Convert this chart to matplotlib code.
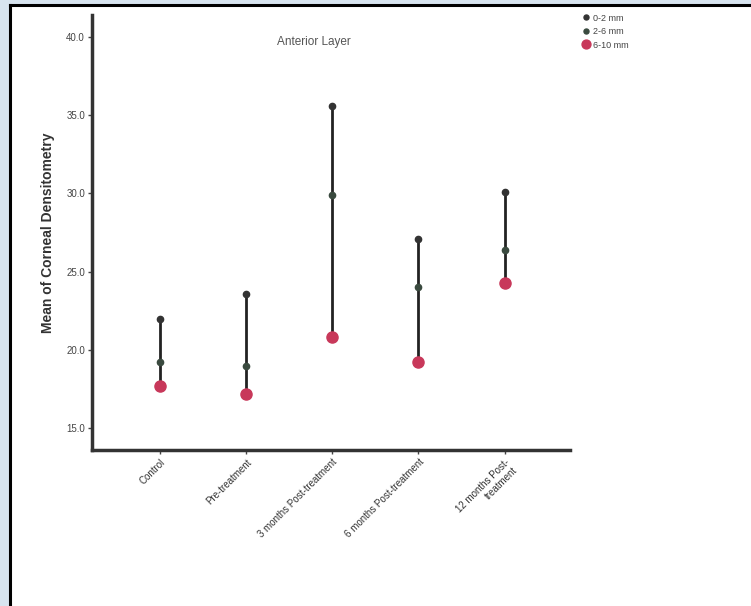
import numpy as np
import matplotlib.pyplot as plt
from matplotlib.patches import Rectangle
from matplotlib.lines import Line2D

plt.rcParams["font.family"] = ["Liberation Sans", "DejaVu Sans"]

# mean densitometry per visit, anterior layer, by annulus
visits = ["Control", "Pre-treatment", "3 months Post-treatment",
          "6 months Post-treatment", "12 months Post-\ntreatment"]
zone_0_2 = [19.2, 19.0, 29.9, 24.0, 26.4]
zone_2_6 = [22.0, 23.6, 35.6, 27.1, 30.1]
zone_6_10 = [17.7, 17.2, 20.8, 19.2, 24.3]
zone_labels = ["0-2 mm", "2-6 mm", "6-10 mm"]
yticks = [15.0, 20.0, 25.0, 30.0, 35.0, 40.0]

fig = plt.figure(figsize=(7.51, 6.06), dpi=100)
fig.patch.set_facecolor("#d7e4ef")
# white panel with dark frame on left/top
fig.patches.append(Rectangle((9 / 751, 0), 1, 1 - 5 / 606, transform=fig.transFigure,
                             facecolor="white", edgecolor="none", zorder=-5))
fig.lines.append(Line2D([9.5 / 751, 9.5 / 751], [0, 1 - 5 / 606], transform=fig.transFigure,
                        color="black", lw=2.2, zorder=-4))
fig.lines.append(Line2D([9.5 / 751, 1], [1 - 5 / 606, 1 - 5 / 606], transform=fig.transFigure,
                        color="black", lw=2.2, zorder=-4))

ax = fig.add_axes([92 / 751, 1 - 450 / 606, 478 / 751, 435 / 606])
ax.set_zorder(2)
ax.set_facecolor("none")
x = np.arange(len(visits))

lo = np.minimum(np.minimum(zone_0_2, zone_2_6), zone_6_10)
hi = np.maximum(np.maximum(zone_0_2, zone_2_6), zone_6_10)
ax.vlines(x, lo, hi, color="#222222", lw=2, zorder=1)
ax.plot(x, zone_2_6, "o", color="#333333", ms=4.5, zorder=2, label=zone_labels[0])
ax.plot(x, zone_0_2, "o", color="#3a4a3f", ms=4.5, zorder=2, label=zone_labels[1])
ax.plot(x, zone_6_10, "o", color="#c8385a", ms=8, zorder=3, label=zone_labels[2])

ax.set_xlim(-0.79, 4.76)
ax.set_ylim(13.6, 41.4)
ax.set_xticks(x)
ax.set_xticklabels(visits, rotation=45, ha="right", rotation_mode="anchor",
                   fontsize=7, color="#333333")
ax.set_yticks(yticks)
ax.set_yticklabels(["%.1f" % v for v in yticks], fontsize=7, color="#444444")
ax.tick_params(axis="both", direction="out", length=3, width=1, color="#444444", pad=2)

for s in ["top", "right"]:
    ax.spines[s].set_visible(False)
for s in ["left", "bottom"]:
    ax.spines[s].set_linewidth(2.5)
    ax.spines[s].set_color("#333333")

ax.set_ylabel("Mean of Corneal Densitometry", fontsize=10, fontweight="bold",
              color="#333333", labelpad=8)
ax.text(0.465, 0.93, "Anterior Layer", transform=ax.transAxes, ha="center",
        fontsize=8.5, color="#555555")

leg = fig.legend(loc="upper left", bbox_to_anchor=(578 / 751, 1 - 10 / 606),
                 frameon=False, fontsize=6.5, handletextpad=0.3, labelspacing=0.5,
                 handlelength=1, borderaxespad=0, markerscale=0.8)
for t in leg.get_texts():
    t.set_color("#444444")

fig.savefig("out.png", dpi=100, facecolor=fig.get_facecolor())
